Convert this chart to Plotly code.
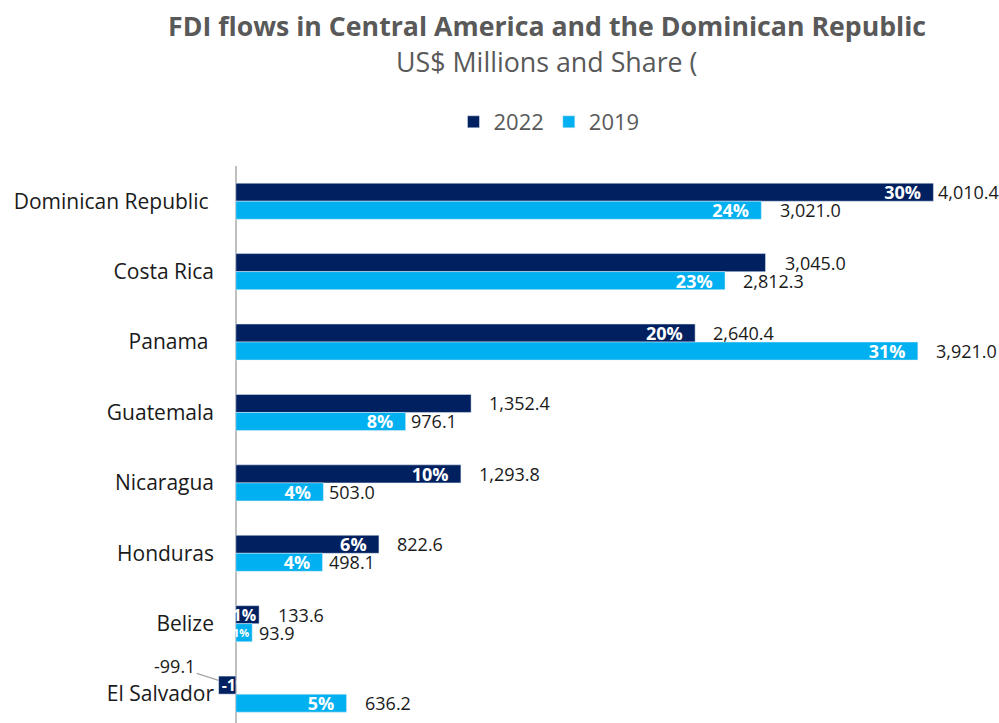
import plotly.graph_objects as go

countries = ["Dominican Republic", "Costa Rica", "Panama", "Guatemala",
             "Nicaragua", "Honduras", "Belize", "El Salvador"]
fdi_2022 = [4010.4, 3045.0, 2640.4, 1352.4, 1293.8, 822.6, 133.6, -99.1]
fdi_2019 = [3021.0, 2812.3, 3921.0, 976.1, 503.0, 498.1, 93.9, 636.2]
share_2022 = [30, None, 20, None, 10, 6, 1, -1]
share_2019 = [24, 23, 31, 8, 4, 4, 1, 5]
tick_labels = ["Dominican Republic\u00a0", "Costa Rica", "Panama\u00a0", "Guatemala",
               "Nicaragua", "Honduras", "Belize", "El Salvador"]

# styling only: label gaps (px) after bar ends, inside-label font sizes / padding
gap_2022 = [3, 17, 16, 16, 16, 16, 17, None]
gap_2019 = [17, 16, 16, 3, 4, 4, 5, 16]
pct_size_2022 = [18, 18, 18, 18, 18, 18, 16, 16]
pct_size_2019 = [18, 18, 18, 18, 18, 18, 11, 18]
pct_pad_2022 = [True, True, True, True, True, True, False, False]
pct_pad_2019 = [True, True, True, True, True, True, False, True]

C22 = "#002060"
C19 = "#00B0F0"
FONT = "Open Sans"
PAD = "\u00a0\u00a0"

def pct(v, pad):
    return "" if v is None else f"{v}%" + (PAD if pad else "")

fig = go.Figure()
fig.add_trace(go.Bar(
    y=countries, x=fdi_2022, orientation="h", name="2022",
    marker=dict(color=C22),
    text=[pct(s, p) for s, p in zip(share_2022, pct_pad_2022)], textposition="inside",
    insidetextanchor="end", textangle=0, constraintext="none",
    textfont=dict(family=FONT, size=pct_size_2022, color="white", weight="bold"),
    hoverinfo="skip",
))
fig.add_trace(go.Bar(
    y=countries, x=fdi_2019, orientation="h", name="2019",
    marker=dict(color=C19),
    text=[pct(s, p) for s, p in zip(share_2019, pct_pad_2019)], textposition="inside",
    insidetextanchor="end", textangle=0, constraintext="none",
    textfont=dict(family=FONT, size=pct_size_2019, color="white", weight="bold"),
    hoverinfo="skip",
))

off = 0.128
for i, c in enumerate(countries):
    v = fdi_2022[i]
    if v >= 0:
        fig.add_annotation(x=v, y=i - off, text=f"{v:,.1f}", showarrow=False,
                           xanchor="left", yanchor="middle", xshift=gap_2022[i],
                           font=dict(family=FONT, size=18, color="#1a1a1a"))
    else:
        fig.add_annotation(x=v, y=i - 2 * off + 0.06, text=f"{v:,.1f}", showarrow=True,
                           arrowhead=0, arrowwidth=1.2, arrowcolor="#a6a6a6",
                           ax=-44, ay=-14, standoff=0,
                           font=dict(family=FONT, size=18, color="#1a1a1a"))
    w = fdi_2019[i]
    fig.add_annotation(x=w, y=i + off, text=f"{w:,.1f}", showarrow=False,
                       xanchor="left", yanchor="middle", xshift=gap_2019[i],
                       font=dict(family=FONT, size=18, color="#1a1a1a"))

fig.add_annotation(xref="paper", yref="paper", x=0.4526, y=1.253,
                   text="<b>FDI flows in Central America and the Dominican Republic</b>",
                   showarrow=False, xanchor="center", yanchor="middle",
                   font=dict(family=FONT, size=26.7, color="#595959"))
fig.add_annotation(xref="paper", yref="paper", x=0.4526, y=1.187,
                   text="US$ Millions and Share (",
                   showarrow=False, xanchor="center", yanchor="middle",
                   font=dict(family=FONT, size=26.8, color="#595959"))

fig.update_layout(
    width=999, height=723,
    margin=dict(l=215, r=50, t=166, b=0, pad=0),
    paper_bgcolor="white", plot_bgcolor="white",
    barmode="group", bargap=0.488, bargroupgap=0,
    font=dict(family=FONT),
    showlegend=True,
    legend=dict(orientation="h", x=0.455, y=1.079, xanchor="center", yanchor="middle",
                font=dict(family=FONT, size=22, color="#595959"),
                traceorder="normal", itemwidth=30),
    xaxis=dict(range=[-120, 4100], showgrid=False, showticklabels=False,
               zeroline=True, zerolinecolor="#bfbfbf", zerolinewidth=1.5,
               showline=False, ticks=""),
    yaxis=dict(categoryorder="array", categoryarray=countries,
               range=[7.41, -0.5], tickmode="array", tickvals=countries,
               ticktext=tick_labels, showgrid=False, showline=False, ticks="",
               automargin=False,
               tickfont=dict(family=FONT, size=21, color="#1a1a1a")),
)

fig.write_html("out.html", config={"displayModeBar": False},
               post_script="document.body.style.margin='0';document.body.style.overflow='hidden';")
